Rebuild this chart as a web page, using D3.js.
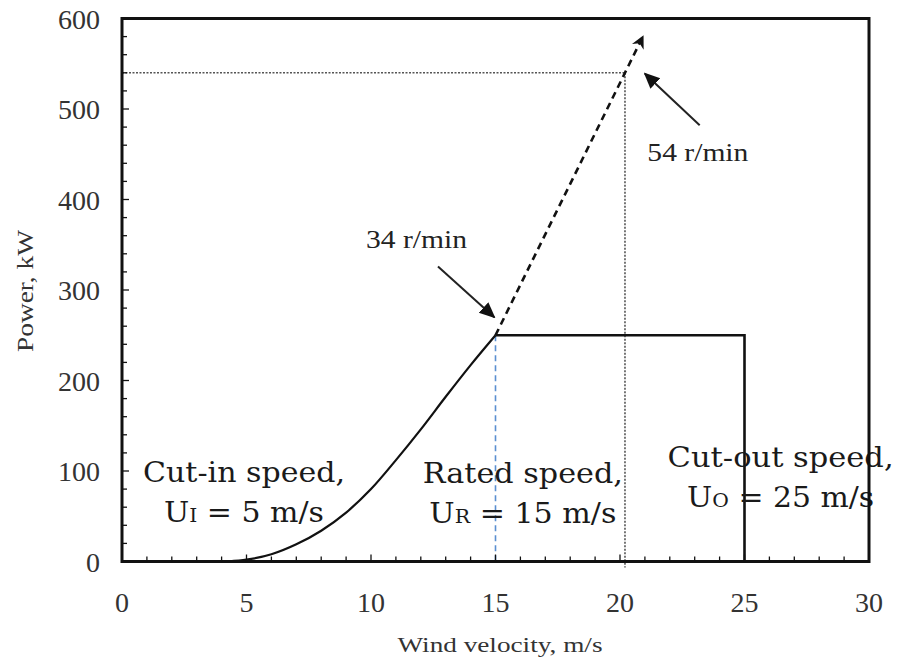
<!DOCTYPE html>
<html>
<head>
<meta charset="utf-8">
<script src="https://cdn.jsdelivr.net/npm/d3@7/dist/d3.min.js"></script>
<style>
  html, body { margin: 0; padding: 0; background: #fff; }
  svg { display: block; }
</style>
</head>
<body>
<svg id="chart" width="897" height="664"></svg>
<script>
// ---------- data ----------
const xTicks = [0, 5, 10, 15, 20, 25, 30];
const yTicks = [0, 100, 200, 300, 400, 500, 600];
const xLabel = "Wind velocity, m/s";
const yLabel = "Power, kW";

// power curve below rated speed
const curveV = [4.26, 5, 6, 7, 8, 9, 10, 11, 12, 13, 14, 15];
const curveP = [0, 2, 8, 19, 34, 54, 80, 112, 146, 182, 217, 250];

// rated (constant) power segment and cut-out
const ratedV = [15, 25, 25];
const ratedP = [250, 250, 0];

// extrapolated (dashed) line
const extV = [15, 20.9];
const extP = [250, 579];

// reference lines
const rated15 = 15;            // blue dashed vertical
const refV = 20.2, refP = 540; // dotted guide lines

// annotations
const annotLabels = ["34 r/min", "54 r/min"];
const annotTextV = [9.8, 21.1];
const annotTextP = [346, 443];
const annotFromV = [12.69, 23.2];
const annotFromP = [326, 482];
const annotToV = [14.95, 21.0];
const annotToP = [270, 539];

// region labels
const regionLine1 = ["Cut-in speed,", "Rated speed,", "Cut-out speed,"];
const regionSub = ["I", "R", "O"];
const regionVal = [" = 5 m/s", " = 15 m/s", " = 25 m/s"];
const regionV = [4.9, 16.1, 26.45];
const regionP1 = [88, 87, 104];
const regionP2 = [44, 43, 60];

// ---------- drawing ----------
const svg = d3.select("#chart");
const x = d3.scaleLinear().domain([0, 30]).range([122, 869]);
const y = d3.scaleLinear().domain([0, 600]).range([561.5, 18.5]);
const serif = "Liberation Serif, Times New Roman, serif";
const cambria = "DejaVu Serif, serif";

const defs = svg.append("defs");
defs.append("marker").attr("id", "tri").attr("viewBox", "0 0 10 10")
  .attr("refX", 9).attr("refY", 5).attr("markerWidth", 8).attr("markerHeight", 8)
  .attr("markerUnits", "strokeWidth").attr("orient", "auto")
  .append("path").attr("d", "M0,0.5 L10,5 L0,9.5 Z").attr("fill", "#111");
defs.append("marker").attr("id", "open").attr("viewBox", "0 0 10 10")
  .attr("refX", 8).attr("refY", 5).attr("markerWidth", 5).attr("markerHeight", 5)
  .attr("markerUnits", "strokeWidth").attr("orient", "auto")
  .append("path").attr("d", "M0,0 L10,5 L0,10 L3,5 Z").attr("fill", "#111");

// dotted guide lines
svg.append("line").attr("x1", x(0)).attr("x2", x(refV)).attr("y1", y(refP)).attr("y2", y(refP))
  .attr("stroke", "#555").attr("stroke-width", 1.6).attr("stroke-dasharray", "2,1.5");
svg.append("line").attr("x1", x(refV)).attr("x2", x(refV)).attr("y1", y(refP)).attr("y2", y(0) + 6)
  .attr("stroke", "#555").attr("stroke-width", 1.6).attr("stroke-dasharray", "2,1.5");

// blue dashed vertical at rated speed
svg.append("line").attr("x1", x(rated15)).attr("x2", x(rated15)).attr("y1", y(250)).attr("y2", y(0))
  .attr("stroke", "#5b8fd0").attr("stroke-width", 1.6).attr("stroke-dasharray", "6,4");

// power curve
const curveData = curveV.map((v, i) => [v, curveP[i]]);
svg.append("path").datum(curveData)
  .attr("d", d3.line().x(d => x(d[0])).y(d => y(d[1])).curve(d3.curveMonotoneX))
  .attr("fill", "none").attr("stroke", "#111").attr("stroke-width", 2.2);

// rated segment
const ratedData = ratedV.map((v, i) => [v, ratedP[i]]);
svg.append("path").datum(ratedData)
  .attr("d", d3.line().x(d => x(d[0])).y(d => y(d[1])))
  .attr("fill", "none").attr("stroke", "#111").attr("stroke-width", 2.6);

// extrapolated dashed line
const extData = extV.map((v, i) => [v, extP[i]]);
svg.append("path").datum(extData)
  .attr("d", d3.line().x(d => x(d[0])).y(d => y(d[1])))
  .attr("fill", "none").attr("stroke", "#111").attr("stroke-width", 2.6)
  .attr("stroke-dasharray", "7,5").attr("marker-end", "url(#open)");

// annotation arrows + labels
annotLabels.forEach((t, i) => {
  svg.append("line")
    .attr("x1", x(annotFromV[i])).attr("y1", y(annotFromP[i]))
    .attr("x2", x(annotToV[i])).attr("y2", y(annotToP[i]))
    .attr("stroke", "#222").attr("stroke-width", 2).attr("marker-end", "url(#tri)");
  svg.append("text").attr("x", x(annotTextV[i])).attr("y", y(annotTextP[i]))
    .attr("font-family", serif).attr("font-size", 25).attr("fill", "#222")
    .attr("textLength", 101).attr("lengthAdjust", "spacingAndGlyphs").text(t);
});

// region labels
const widths1 = [202, 200, 226];
const widths2 = [160, 187, 187];
regionLine1.forEach((t, i) => {
  svg.append("text").attr("x", x(regionV[i])).attr("y", y(regionP1[i]))
    .attr("text-anchor", "middle").attr("font-family", cambria).attr("font-size", 28)
    .attr("fill", "#1a1a1a").attr("textLength", widths1[i]).attr("lengthAdjust", "spacingAndGlyphs")
    .text(t);
  const t2 = svg.append("text").attr("x", x(regionV[i])).attr("y", y(regionP2[i]))
    .attr("text-anchor", "middle").attr("font-family", cambria).attr("font-size", 28)
    .attr("fill", "#1a1a1a").attr("textLength", widths2[i]).attr("lengthAdjust", "spacingAndGlyphs");
  t2.append("tspan").text("U");
  t2.append("tspan").attr("font-size", 19).text(regionSub[i]);
  t2.append("tspan").text(regionVal[i]);
});

// axes frame
const frame = svg.append("g");
frame.append("rect").attr("x", x(0)).attr("y", y(600)).attr("width", x(30) - x(0)).attr("height", y(0) - y(600))
  .attr("fill", "none").attr("stroke", "#111").attr("stroke-width", 3);

// minor/major ticks inside
const yMinor = d3.range(0, 601, 20);
frame.selectAll(".ytick").data(yMinor).join("line")
  .attr("x1", x(0)).attr("x2", d => x(0) + (d % 100 === 0 ? 7 : 5))
  .attr("y1", d => y(d)).attr("y2", d => y(d))
  .attr("stroke", "#111").attr("stroke-width", 1.3);
const xMinor = d3.range(0, 31, 1);
frame.selectAll(".xtick").data(xMinor).join("line")
  .attr("x1", d => x(d)).attr("x2", d => x(d))
  .attr("y1", y(0)).attr("y2", d => y(0) - (d % 5 === 0 ? 7 : 5))
  .attr("stroke", "#111").attr("stroke-width", 1.3);

// tick labels
svg.selectAll(".ylab").data(yTicks).join("text")
  .attr("x", 100).attr("y", d => y(d) + 10).attr("text-anchor", "end")
  .attr("font-family", serif).attr("font-size", 28).attr("fill", "#333").text(d => d);
svg.selectAll(".xlab").data(xTicks).join("text")
  .attr("x", d => x(d)).attr("y", 612).attr("text-anchor", "middle")
  .attr("font-family", serif).attr("font-size", 28).attr("fill", "#333").text(d => d);

// axis titles
svg.append("text").attr("x", 500).attr("y", 652).attr("text-anchor", "middle")
  .attr("font-family", serif).attr("font-size", 22).attr("fill", "#333")
  .attr("textLength", 205).attr("lengthAdjust", "spacingAndGlyphs").text(xLabel);
svg.append("text").attr("transform", "translate(33,291) rotate(-90)").attr("text-anchor", "middle")
  .attr("font-family", serif).attr("font-size", 23).attr("fill", "#333")
  .attr("textLength", 122).attr("lengthAdjust", "spacingAndGlyphs").text(yLabel);
</script>
</body>
</html>
